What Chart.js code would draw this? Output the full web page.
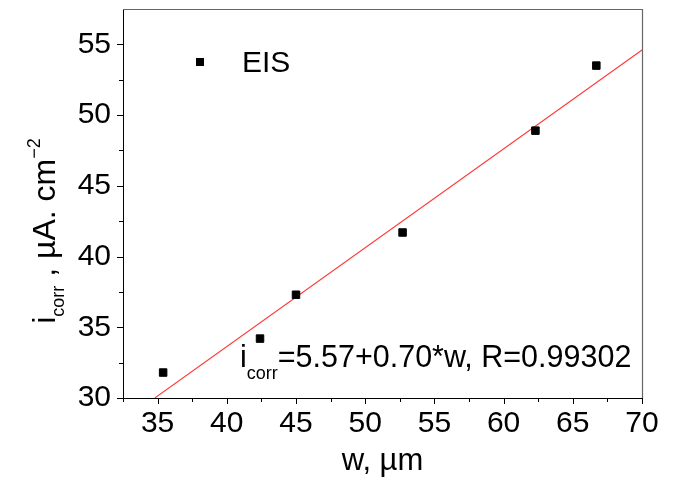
<!DOCTYPE html>
<html>
<head>
<meta charset="utf-8">
<script src="https://cdn.jsdelivr.net/npm/chart.js@4/dist/chart.umd.min.js"></script>
<style>
body { margin: 0; background: #fff; }
</style>
</head>
<body>
<canvas id="myChart" width="676" height="477"></canvas>
<script>
// EIS points, w in um and i_corr in uA/cm2
let widthValues = [35.4, 42.4, 45.0, 52.7, 62.3, 66.7];
let currentValues = [31.8, 34.2, 37.3, 41.7, 48.9, 53.5];

// ends of the fitted line as seen in the picture
let fitX = [34.8, 70];
let fitY = [30.0, 54.6];

let xTicks = [35, 40, 45, 50, 55, 60, 65, 70];
let xTickLabels = ["35", "40", "45", "50", "55", "60", "65", "70"];
let xMinorTicks = [32.5, 37.5, 42.5, 47.5, 52.5, 57.5, 62.5, 67.5];

let yTicks = [30, 35, 40, 45, 50, 55];
let yTickLabels = ["30", "35", "40", "45", "50", "55"];
let yMinorTicks = [32.5, 37.5, 42.5, 47.5, 52.5];

const FONT = "'Liberation Sans', Arial, sans-serif";

// draws a row of [text, size, shift] pieces, returns its width
function drawPieces(ctx, pieces, x, y, measureOnly)
{
    let pos = x;
    for (let i = 0; i < pieces.length; i++)
    {
        let p = pieces[i];
        ctx.font = p[1] + "px " + FONT;
        if (!measureOnly)
            ctx.fillText(p[0], pos, y + p[2]);
        pos += ctx.measureText(p[0]).width;
    }
    return pos - x;
}

const extras =
{
    id: "extras",
    afterDraw(chart)
    {
        const ctx = chart.ctx;
        const area = chart.chartArea;
        const xs = chart.scales.x;
        const ys = chart.scales.y;

        ctx.save();

        // top and right frame
        ctx.strokeStyle = "#666";
        ctx.lineWidth = 1.2;
        ctx.beginPath();
        ctx.moveTo(area.left, area.top + 0.5);
        ctx.lineTo(area.right + 0.5, area.top + 0.5);
        ctx.lineTo(area.right + 0.5, area.bottom);
        ctx.stroke();

        // outward ticks
        ctx.strokeStyle = "#000";
        ctx.lineWidth = 1;
        ctx.beginPath();
        xTicks.forEach(v => { let px = Math.round(xs.getPixelForValue(v)) + 0.5; ctx.moveTo(px, area.bottom); ctx.lineTo(px, area.bottom + 6); });
        xMinorTicks.forEach(v => { let px = Math.round(xs.getPixelForValue(v)) + 0.5; ctx.moveTo(px, area.bottom); ctx.lineTo(px, area.bottom + 4); });
        yTicks.forEach(v => { let py = Math.round(ys.getPixelForValue(v)) + 0.5; ctx.moveTo(area.left, py); ctx.lineTo(area.left - 6, py); });
        yMinorTicks.forEach(v => { let py = Math.round(ys.getPixelForValue(v)) + 0.5; ctx.moveTo(area.left, py); ctx.lineTo(area.left - 4, py); });
        ctx.stroke();

        ctx.fillStyle = "#000";
        ctx.textBaseline = "alphabetic";
        ctx.textAlign = "left";

        // legend
        const ds = chart.data.datasets[0];
        ctx.fillRect(196, 58, 8, 8);
        ctx.font = "30px " + FONT;
        ctx.fillText(ds.label, 242, 72);

        // fit equation
        let eq = [["i", 30.5, 0], ["corr", 18, 12], ["=5.57+0.70*w, R=0.99302", 30.5, 0]];
        drawPieces(ctx, eq, 240, 367, false);

        // x title
        ctx.font = "31px " + FONT;
        ctx.textAlign = "center";
        ctx.fillText("w, \u00b5m", (area.left + area.right) / 2, 470);
        ctx.textAlign = "left";

        // y title, rotated
        let yt = [["i", 32, 0], ["corr", 18, 9], [" , \u00b5A. cm", 32, 0], ["\u22122", 18, -15]];
        let w = drawPieces(ctx, yt, 0, 0, true);
        ctx.translate(55, 231);
        ctx.rotate(-Math.PI / 2);
        drawPieces(ctx, yt, -w / 2, 0, false);

        ctx.restore();
    }
};

const config =
{
    type: "scatter",
    data:
    {
        datasets:
        [
            {
                label: "EIS",
                data: widthValues.map((w, i) => ({ x: w, y: currentValues[i] })),
                pointStyle: "rect",
                pointRadius: 5.3,
                backgroundColor: "#000",
                borderColor: "#000",
                borderWidth: 1,
                order: 1
            },
            {
                label: "fit",
                type: "line",
                data: fitX.map((w, i) => ({ x: w, y: fitY[i] })),
                borderColor: "#ff3b3b",
                borderWidth: 1.1,
                pointRadius: 0,
                fill: false,
                order: 2
            }
        ]
    },
    options:
    {
        responsive: false,
        animation: false,
        events: [],
        layout: { padding: { left: 0, right: 34, top: 9, bottom: 0 } },
        plugins:
        {
            legend: { display: false },
            tooltip: { enabled: false }
        },
        scales:
        {
            x:
            {
                type: "linear",
                min: 32.5,
                max: 70,
                grid: { display: false, drawTicks: false },
                border: { display: true, color: "#000", width: 1 },
                afterBuildTicks: scale => { scale.ticks = xTicks.map(v => ({ value: v })); },
                afterFit: scale => { scale.height = 79; scale.paddingLeft = 0; scale.paddingRight = 0; },
                ticks:
                {
                    padding: 8,
                    color: "#000",
                    font: { family: FONT, size: 30 },
                    callback: (v) => xTickLabels[xTicks.indexOf(v)]
                }
            },
            y:
            {
                type: "linear",
                min: 30,
                max: 57.5,
                grid: { display: false, drawTicks: false },
                border: { display: true, color: "#000", width: 1 },
                afterBuildTicks: scale => { scale.ticks = yTicks.map(v => ({ value: v })); },
                afterFit: scale => { scale.width = 123; scale.paddingTop = 0; scale.paddingBottom = 0; },
                ticks:
                {
                    padding: 12,
                    color: "#000",
                    font: { family: FONT, size: 30 },
                    callback: (v) => yTickLabels[yTicks.indexOf(v)]
                }
            }
        }
    },
    plugins: [extras]
};

new Chart(document.getElementById("myChart"), config);
</script>
</body>
</html>
